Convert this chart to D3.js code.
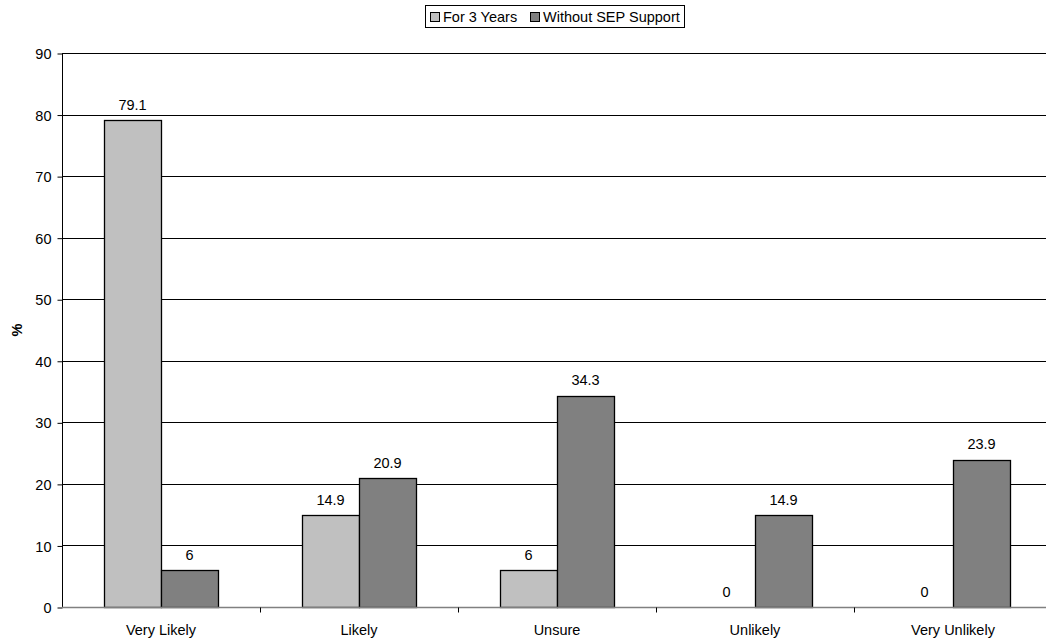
<!DOCTYPE html>
<html>
<head>
<meta charset="utf-8">
<script src="https://cdn.jsdelivr.net/npm/d3@7"></script>
<style>
  html, body { margin: 0; padding: 0; background: #fff; }
  svg { display: block; font-family: "Liberation Sans", Arial, sans-serif; }
</style>
</head>
<body>
<svg id="chart" width="1046" height="643"></svg>
<script>
// Survey responses (%) by likelihood category
const categories = ["Very Likely", "Likely", "Unsure", "Unlikely", "Very Unlikely"];
const seriesNames = ["For 3 Years", "Without SEP Support"];
const for3Years = [79.1, 14.9, 6, 0, 0];
const withoutSEP = [6, 20.9, 34.3, 14.9, 23.9];
const yTicks = [0, 10, 20, 30, 40, 50, 60, 70, 80, 90];
const colors = ["#c0c0c0", "#808080"];

const FS = 14.5;
const svg = d3.select("#chart");
const W = 1046, H = 643;
const m = { left: 62, right: -6, top: 53, bottom: 36 };
const x0 = m.left, x1 = W - m.right;
const yTop = m.top, yBot = H - m.bottom;

const x = d3.scaleBand().domain(categories).range([x0, x1]).paddingInner(0).paddingOuter(0);
const xs = d3.scaleBand().domain(seriesNames).range([0, x.bandwidth()]).paddingOuter(0.737).paddingInner(0);
const y = d3.scaleLinear().domain([0, 90]).range([yBot, yTop]);

// horizontal gridlines
svg.append("g").selectAll("line").data(yTicks.filter(d => d > 0)).join("line")
  .attr("x1", x0).attr("x2", x1)
  .attr("y1", d => Math.round(y(d)) + 0.5).attr("y2", d => Math.round(y(d)) + 0.5)
  .attr("stroke", "#000").attr("stroke-width", 1);

// bars
const rows = categories.map((c, i) => ({ c, vals: [for3Years[i], withoutSEP[i]] }));
const grp = svg.append("g").selectAll("g").data(rows).join("g")
  .attr("transform", d => `translate(${x(d.c)},0)`);
grp.selectAll("rect").data(d => d.vals.map((v, j) => ({ v, s: seriesNames[j], j })))
  .join("rect")
  .filter(d => d.v > 0)
  .attr("x", d => Math.round(xs(d.s)) + 0.5)
  .attr("width", Math.round(xs.bandwidth()))
  .attr("y", d => Math.round(y(d.v)) + 0.5)
  .attr("height", d => Math.round(y(0)) - Math.round(y(d.v)))
  .attr("fill", d => colors[d.j])
  .attr("stroke", "#000").attr("stroke-width", 1.3);

// value labels
grp.selectAll("text").data(d => d.vals.map((v, j) => ({ v, s: seriesNames[j] })))
  .join("text")
  .attr("x", d => xs(d.s) + xs.bandwidth() / 2)
  .attr("y", d => y(d.v) - 10.5)
  .attr("text-anchor", "middle")
  .attr("font-size", FS).attr("fill", "#000")
  .text(d => d.v);

// y axis
const yAxis = d3.axisLeft(y).tickValues(yTicks).tickSize(5).tickPadding(6);
const ya = svg.append("g").attr("transform", `translate(${x0 + 0.5},0.5)`).call(yAxis);
ya.select(".domain").attr("stroke", "#000").attr("d", `M0,${yTop}V${yBot}`);
ya.selectAll(".tick line").attr("stroke", "#000");
ya.selectAll(".tick text").attr("font-size", FS).attr("fill", "#000")
  .attr("font-family", "Liberation Sans, Arial, sans-serif").attr("dy", "0.35em");

// x axis baseline and category ticks
const xa = svg.append("g").attr("transform", `translate(0,${Math.round(yBot) + 0.5})`);
xa.append("line").attr("x1", x0).attr("x2", x1).attr("stroke", "#808080").attr("stroke-width", 1.3);
xa.selectAll("line.t").data(categories.slice(1).map(c => x(c))).join("line")
  .attr("class", "t")
  .attr("x1", d => Math.round(d) + 0.5).attr("x2", d => Math.round(d) + 0.5)
  .attr("y1", 0).attr("y2", 5).attr("stroke", "#000");
xa.selectAll("text").data(categories).join("text")
  .attr("x", d => x(d) + x.bandwidth() / 2)
  .attr("y", 27)
  .attr("text-anchor", "middle").attr("font-size", FS).attr("fill", "#000")
  .text(d => d);

// y axis title
svg.append("text")
  .attr("transform", `translate(22,${(yTop + yBot) / 2}) rotate(-90)`)
  .attr("text-anchor", "middle").attr("font-size", FS).attr("font-weight", "bold")
  .text("%");

// legend
const leg = svg.append("g");
leg.append("rect").attr("x", 425.5).attr("y", 5.5).attr("width", 259).attr("height", 22)
  .attr("fill", "#fff").attr("stroke", "#000").attr("stroke-width", 1);
const legX = [430, 530];
seriesNames.forEach((n, i) => {
  leg.append("rect").attr("x", legX[i] + 0.5).attr("y", 12.5).attr("width", 9).attr("height", 9)
    .attr("fill", colors[i]).attr("stroke", "#000");
  leg.append("text").attr("x", legX[i] + 13).attr("y", 21.5).attr("font-size", FS).text(n);
});
</script>
</body>
</html>
